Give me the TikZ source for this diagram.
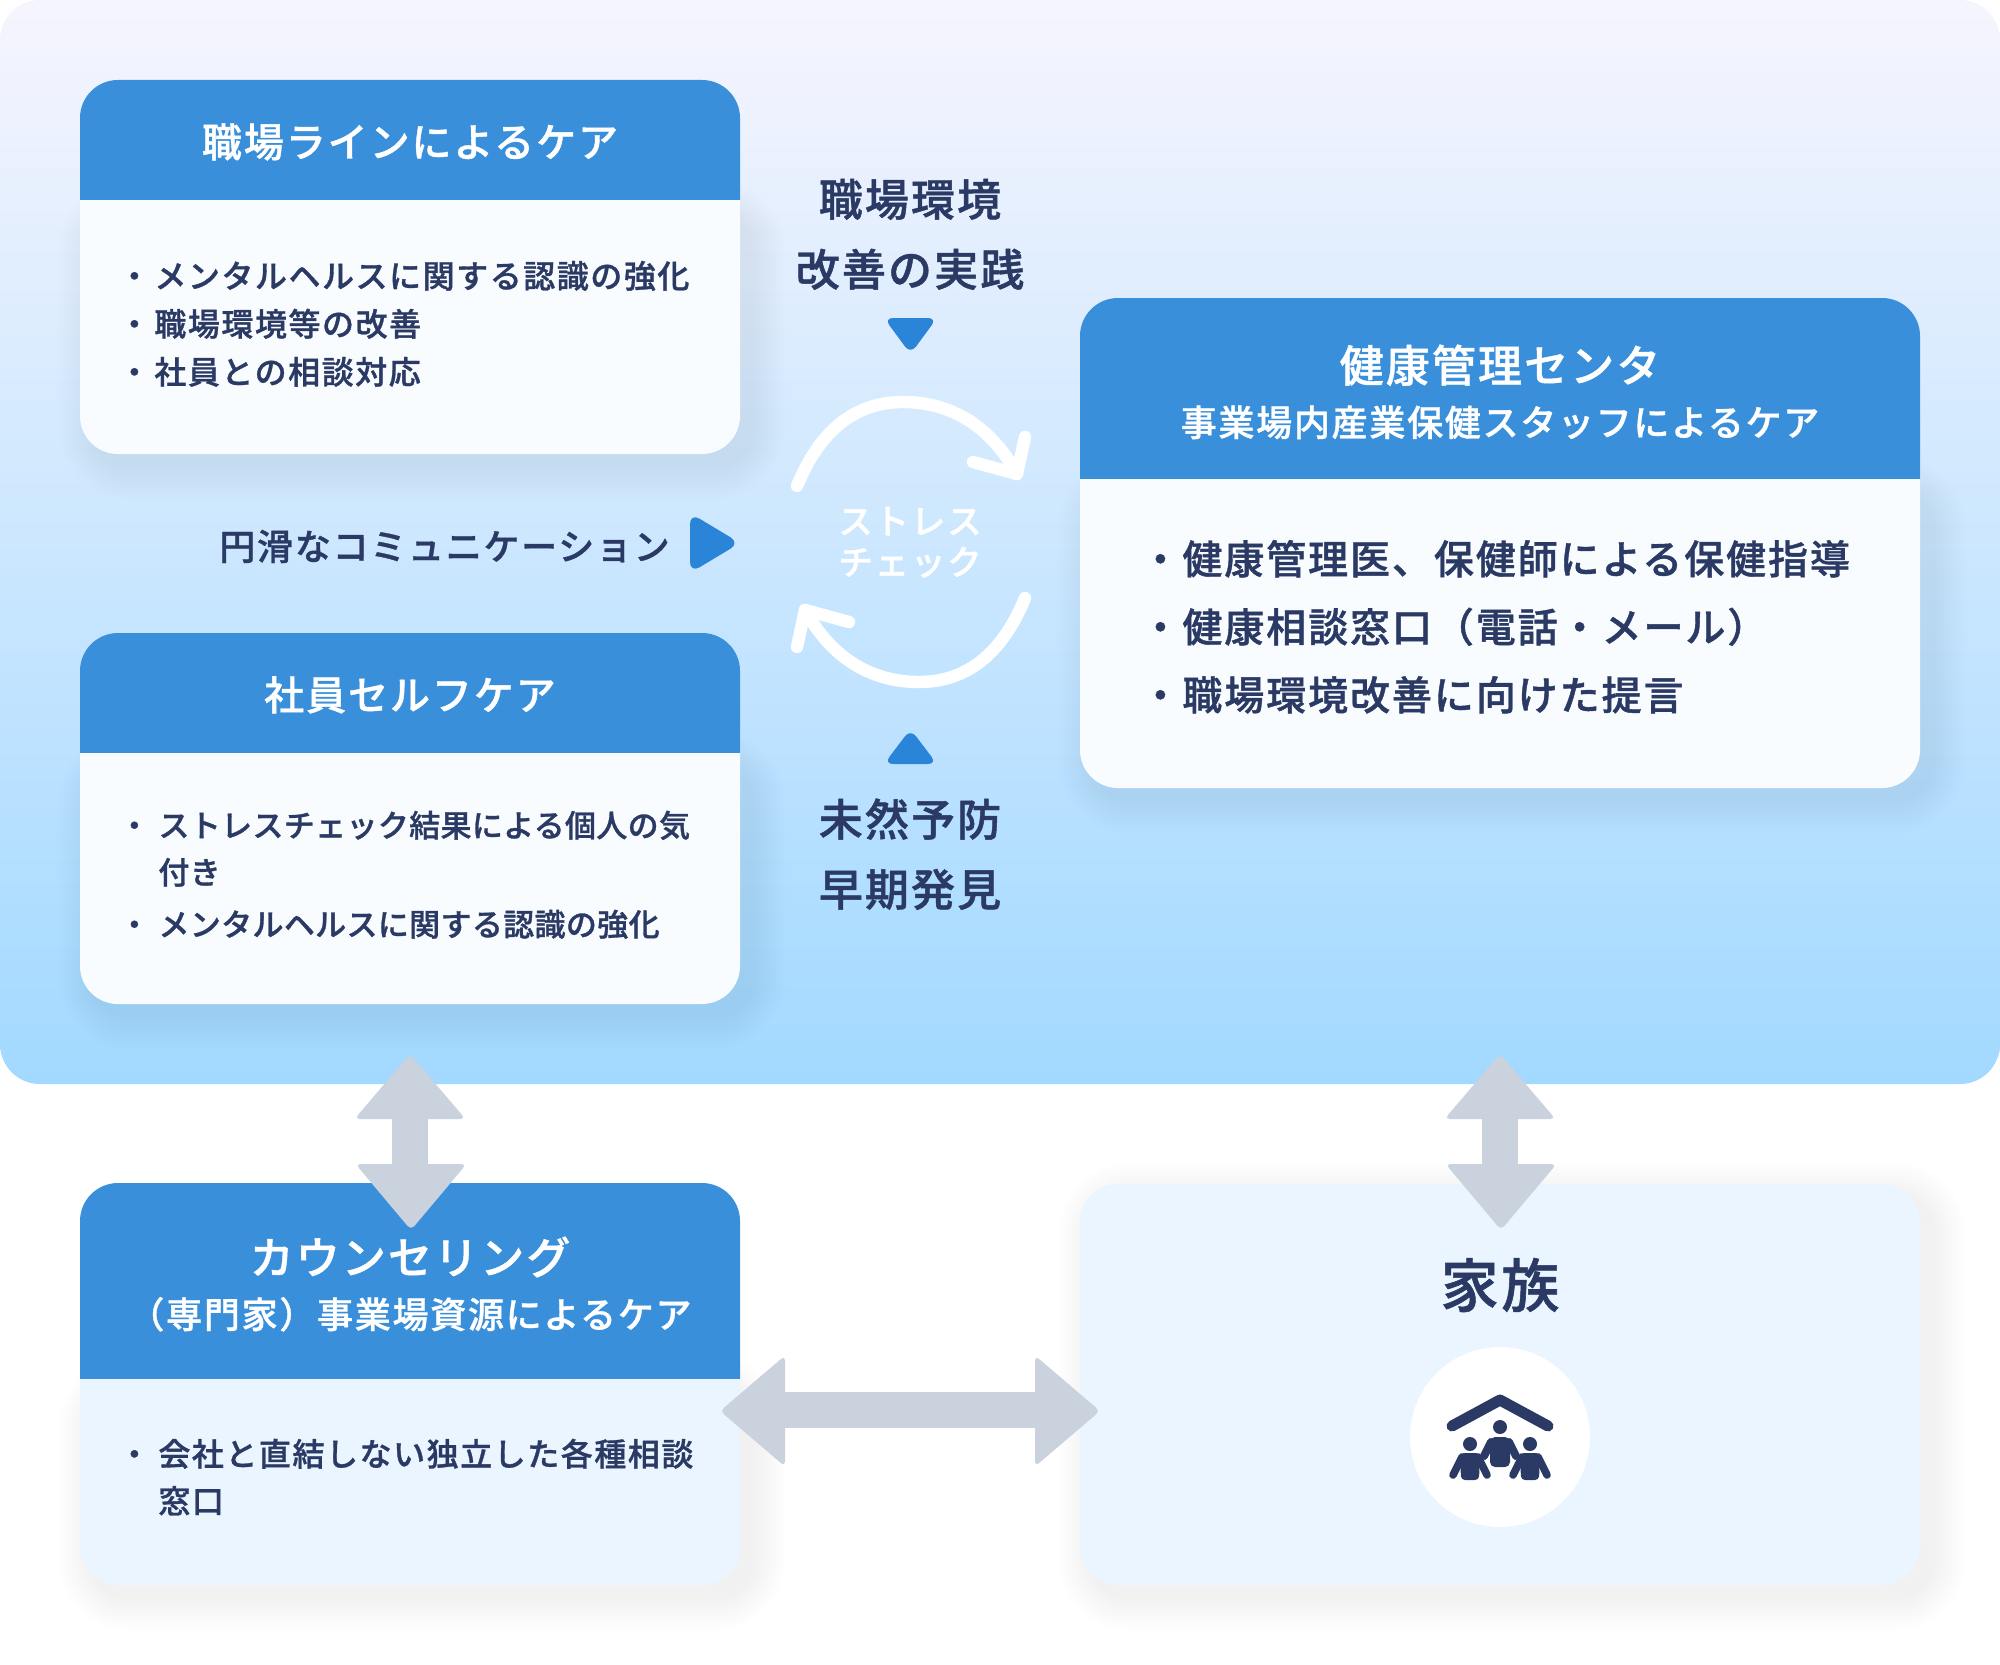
\documentclass[tikz,border=0pt]{standalone}
\usepackage{fontspec}
\usetikzlibrary{calc}
\newfontfamily\jpt[LetterSpace=4.8,FakeBold=1]{Noto Sans CJK JP Medium}
\newfontfamily\jpn[LetterSpace=1.1,FakeBold=1]{Noto Sans CJK JP Medium}
\definecolor{navy}{HTML}{2A3A64}
\definecolor{hdr}{HTML}{3A8FDB}
\definecolor{tri}{HTML}{2A84D8}
\definecolor{gar}{HTML}{CAD2DE}
\definecolor{pale}{HTML}{EAF5FF}
\definecolor{cardb}{HTML}{F9FCFF}
\definecolor{bgtop}{HTML}{F6F5FE}
\definecolor{bgbot}{HTML}{A2D9FF}
\newcommand\bl[1]{\makebox[#1][l]{・}}
\newcommand\softsh[4]{%
  \foreach \i in {1,...,14}{
    \fill[black,opacity=.0026,rounded corners=\fpeval{19+\i*1.2}pt]
      (#1-\i*2.4+12,#2-\i*2.4+12) rectangle (#3+\i*2.4+12,#4+\i*2.4+12);
  }}
% x1 y1 x2 y2 headerbottom bodycolour
\newcommand\cardbox[6]{%
  \softsh{#1}{#5}{#3}{#4}
  \fill[#6,rounded corners=19pt] (#1,#5-60) rectangle (#3,#4);
  \begin{scope}
    \clip (#1,#2) rectangle (#3,#5);
    \fill[hdr,rounded corners=19pt] (#1,#2) rectangle (#3,#5+80);
  \end{scope}}
\tikzset{
  txt/.style={anchor=base,inner sep=0pt,text=navy},
  hA/.style={txt,text=white,font=\jpt\fontsize{20}{20}\selectfont},
  hB/.style={txt,text=white,font=\jpt\fontsize{22}{22}\selectfont},
  hC/.style={txt,text=white,font=\jpt\fontsize{18}{18}\selectfont},
  liA/.style={txt,anchor=base west,font=\jpt\fontsize{16}{16}\selectfont},
  liB/.style={txt,anchor=base west,font=\jpn\fontsize{15.5}{16}\selectfont},
  liC/.style={txt,anchor=base west,font=\jpt\fontsize{20}{20}\selectfont},
  lab/.style={txt,font=\jpt\fontsize{22}{22}\selectfont},
  comm/.style={txt,anchor=base west,font=\jpt\fontsize{18}{18}\selectfont},
  strs/.style={txt,text=white,font=\jpt\fontsize{17.3}{17}\selectfont},
  fam/.style={txt,font=\jpt\fontsize{29}{29}\selectfont},
  gararrow/.style={fill=gar,rounded corners=2.5pt},
  triang/.style={fill=tri,rounded corners=4.5pt},
  cyc/.style={draw=white,line width=6.2pt,line cap=round,line join=round},
}
\begin{document}
\begin{tikzpicture}[x=.5pt,y=-.5pt]
\useasboundingbox (0,0) rectangle (2000,1664);
% background panel
\path[top color=bgtop,bottom color=bgbot,rounded corners=20pt] (0,0) rectangle (2000,1084);
% cards
\cardbox{80}{80}{740}{454}{200}{cardb}
\cardbox{80}{633}{740}{1004}{752}{cardb}
\cardbox{1080}{298}{1920}{788}{478}{cardb}
\cardbox{80}{1183}{740}{1585}{1378}{pale}
\softsh{1080}{1184}{1920}{1585}
\fill[pale,rounded corners=19pt] (1080,1184) rectangle (1920,1585);
% header texts
\node[hA] (ta) at (410,157) {職場ラインによるケア};
\node[hA] (tb) at (410,710) {社員セルフケア};
\node[hC] (tc2) at (1500,436) {事業場内産業保健スタッフによるケア};
\node[hB] (tc1) at (1500,382) {健康管理センタ};
\node[hB] (td1) at (410,1274) {カウンセリング};
\node[hC] (td2) at (410,1328) {（専門家）事業場資源によるケア};
\node[fam] (te) at (1500,1307) {家族};
% lists
\node[liA] (a1) at (118,288) {\bl{18pt}メンタルヘルスに関する認識の強化};
\node[liA] (a2) at (118,336) {\bl{18pt}職場環境等の改善};
\node[liA] (a3) at (118,384) {\bl{18pt}社員との相談対応};
\node[liB] (b1) at (118.5,837) {\bl{19.8pt}ストレスチェック結果による個人の気};
\node[liB] (b2) at (158,884) {付き};
\node[liB] (b3) at (118.5,936) {\bl{19.8pt}メンタルヘルスに関する認識の強化};
\node[liC] (c1) at (1140,574) {\bl{21pt}健康管理医、保健師による保健指導};
\node[liC] (c2) at (1140,642) {\bl{21pt}健康相談窓口（電話・メール）};
\node[liC] (c3) at (1140,710) {\bl{21pt}職場環境改善に向けた提言};
\node[liA] (d1) at (118,1466) {\bl{20pt}会社と直結しない独立した各種相談};
\node[liA] (d2) at (158,1513) {窓口};
% centre labels
\node[lab] (l1) at (910,216) {職場環境};
\node[lab] (l2) at (910,286) {改善の実践};
\node[lab] (l3) at (910,836) {未然予防};
\node[lab] (l4) at (910,906) {早期発見};
\node[comm] (cm) at (219,560) {円滑なコミュニケーション};
\node[strs] (s1) at (910,534) {ストレス};
\node[strs] (s2) at (910,575) {チェック};
% triangles
\fill[triang] (884,318) -- (937,318) -- (910.5,354) -- cycle;
\fill[triang] (884,764) -- (937,764) -- (910.5,729) -- cycle;
\fill[triang,rounded corners=5.5pt] (690,513) -- (740,543) -- (690,573) -- cycle;
% cycle arrows
\draw[cyc] (797,486) .. controls (822,425) and (860,402) .. (903,402) .. controls (950,402) and (990,425) .. (1017,474);
\draw[cyc] (973,462) -- (1017,474) -- (1025,437);
\draw[cyc] (1025,598) .. controls (1000,659) and (962,682) .. (919,682) .. controls (872,682) and (832,659) .. (805,610);
\draw[cyc] (849,622) -- (805,610) -- (797,647);
% vertical arrows
\foreach \n/\cx in {v1/410,v2/1500}{
  \coordinate (\n) at (\cx,0);
  \fill[gar] ($(\n)+(-18,1110)$) rectangle ($(\n)+(18,1170)$);
  \fill[gararrow] ($(\n)+(0,1054)$) -- ($(\n)+(55.5,1119)$) -- ($(\n)+(-55.5,1119)$) -- cycle;
  \fill[gararrow] ($(\n)+(1,1230)$) -- ($(\n)+(56.5,1164)$) -- ($(\n)+(-54.5,1164)$) -- cycle;
}
% horizontal arrow
\fill[gar] (780,1392) rectangle (1040,1428);
\fill[gararrow] (720,1411) -- (785,1355.5) -- (785,1466.5) -- cycle;
\fill[gararrow] (1100,1411) -- (1035,1355.5) -- (1035,1466.5) -- cycle;
% family icon
\fill[white] (1500,1437) circle (90);
\draw[navy,line width=5.5pt,line cap=round,line join=round] (1452,1426) -- (1500,1400) -- (1548,1426);
\fill[navy] (1500,1427) circle (7) (1470,1444) circle (7) (1530,1444) circle (7);
\fill[navy,rounded corners=2.5pt] (1490,1437) rectangle (1510,1467);
\draw[navy,line width=4pt,line cap=round] (1491,1442) -- (1484,1456) (1509,1442) -- (1516,1456);
\foreach \c in {1470,1530}{
  \fill[navy,rounded corners=2pt] (\c-10,1453) -- (\c+10,1453) -- (\c+9,1480) -- (\c-9,1480) -- cycle;
  \draw[navy,line width=3.8pt,line cap=round] (\c-8,1457) -- (\c-17,1475) (\c+8,1457) -- (\c+17,1475);
}
\end{tikzpicture}
\end{document}
